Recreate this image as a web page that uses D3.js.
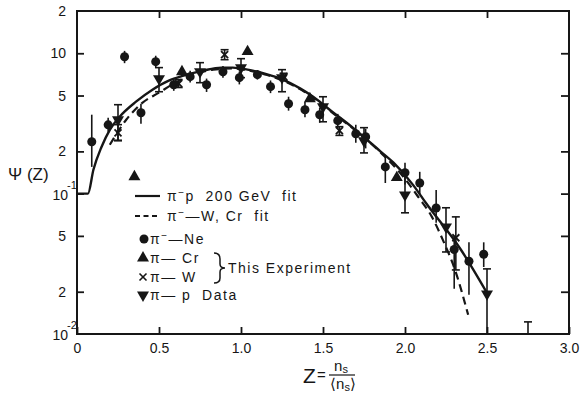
<!DOCTYPE html>
<html><head><meta charset="utf-8">
<script src="https://cdn.jsdelivr.net/npm/d3@7"></script>
<style>
html,body{margin:0;padding:0;background:#fff;}
svg{display:block;font-family:"Liberation Sans",Arial,sans-serif;}
</style></head><body>
<svg id="chart" width="581" height="396"></svg>
<script>
// ---------- data ----------
const xTicks = [0, 0.5, 1.0, 1.5, 2.0, 2.5, 3.0];
const xTickLabels = ["0", "0.5", "1.0", "1.5", "2.0", "2.5", "3.0"];
const yTicks = [2, 1, 0.5, 0.2, 0.1, 0.05, 0.02, 0.01];
const yTickBase = ["2", "10", "5", "2", "10", "5", "2", "10"];
const yTickExp  = ["", "", "", "", "-1", "", "", "-2"];

// pi- p 200 GeV fit (solid)
const fitPZ   = [0, 0.067, 0.10, 0.15, 0.20, 0.26, 0.36, 0.46, 0.56, 0.65, 0.77, 0.88, 0.95, 1.04, 1.16, 1.24, 1.36, 1.44, 1.56, 1.65, 1.85, 1.93, 2.05, 2.13, 2.34, 2.50];
const fitPPsi = [0.1, 0.1, 0.148, 0.216, 0.285, 0.353, 0.452, 0.55, 0.638, 0.692, 0.752, 0.79, 0.79, 0.764, 0.708, 0.66, 0.562, 0.49, 0.38, 0.316, 0.20, 0.166, 0.115, 0.085, 0.040, 0.0196];
// pi- W, Cr fit (dashed)
const fitWZ   = [0.20, 0.30, 0.40, 0.50, 0.60, 0.70, 0.83, 0.95, 1.04, 1.16, 1.36, 1.56, 1.85, 1.99, 2.08, 2.165, 2.23, 2.305, 2.385];
const fitWPsi = [0.223, 0.336, 0.445, 0.524, 0.617, 0.70, 0.764, 0.78, 0.755, 0.70, 0.555, 0.375, 0.197, 0.132, 0.095, 0.068, 0.047, 0.0286, 0.0137];

// pi- Ne (circles)
const neZ   = [0.09, 0.19, 0.29, 0.39, 0.48, 0.59, 0.69, 0.79, 0.89, 0.99, 1.10, 1.18, 1.29, 1.39, 1.48, 1.59, 1.70, 1.76, 1.88, 2.00, 2.09, 2.19, 2.30, 2.39, 2.48];
const nePsi = [0.234, 0.309, 0.945, 0.377, 0.871, 0.597, 0.681, 0.597, 0.739, 0.670, 0.704, 0.578, 0.437, 0.396, 0.365, 0.331, 0.267, 0.254, 0.155, 0.141, 0.119, 0.079, 0.040, 0.033, 0.037];
const neLo  = [0.155, 0.276, 0.85, 0.315, 0.79, 0.54, 0.62, 0.53, 0.67, 0.60, 0.65, 0.52, 0.39, 0.35, 0.32, 0.29, 0.23, 0.21, 0.119, 0.116, 0.098, 0.062, 0.021, 0.019, 0.030];
const neHi  = [0.365, 0.347, 1.04, 0.437, 0.96, 0.66, 0.75, 0.66, 0.81, 0.74, 0.76, 0.64, 0.49, 0.45, 0.41, 0.37, 0.31, 0.29, 0.183, 0.166, 0.143, 0.106, 0.050, 0.045, 0.045];

// pi- Cr (triangles)
const crZ   = [0.35, 0.64, 1.04, 1.42, 1.95];
const crPsi = [0.132, 0.739, 1.027, 0.474, 0.130];

// pi- W (crosses)
const wZ   = [0.25, 0.62, 0.90, 1.26, 1.60, 2.31];
const wPsi = [0.271, 0.607, 0.977, 0.681, 0.281, 0.0485];
const wLo  = [0.24, 0.57, 0.90, 0.64, 0.26, 0.0286];
const wHi  = [0.31, 0.65, 1.06, 0.72, 0.30, 0.0683];

// pi- p data (inverted triangles)
const pZ   = [0.25, 0.50, 0.75, 1.00, 1.25, 1.50, 1.75, 2.00, 2.25, 2.50];
const pPsi = [0.336, 0.659, 0.739, 0.789, 0.670, 0.416, 0.238, 0.098, 0.058, 0.0193];
const pLo  = [0.238, 0.532, 0.617, 0.670, 0.532, 0.325, 0.195, 0.073, 0.0384, 0.01];
const pHi  = [0.430, 0.790, 0.857, 0.915, 0.764, 0.490, 0.295, 0.141, 0.0793, 0.0291];

// upper limit bar
const limZ  = [2.75];
const limLo = [0.01];
const limHi = [0.0122];

// ---------- drawing ----------
const ink = "#161616";
const svg = d3.select("#chart");
const x = d3.scaleLinear().domain([0, 3]).range([77, 569]);
const y = d3.scaleLog().domain([0.01, 2]).range([334, 11]);

// frame
svg.append("rect")
  .attr("x", x(0)).attr("y", y(2))
  .attr("width", x(3) - x(0)).attr("height", y(0.01) - y(2))
  .attr("fill", "none").attr("stroke", ink).attr("stroke-width", 2);

function styleAxis(g) {
  g.select(".domain").remove();
  g.selectAll(".tick line").attr("stroke", ink).attr("stroke-width", 1.8);
  g.attr("font-family", "Liberation Sans, Arial, sans-serif").attr("font-size", 14);
  g.selectAll(".tick text").attr("fill", ink);
}
svg.append("g").attr("transform", `translate(0,${y(0.01)})`)
  .call(d3.axisBottom(x).tickValues(xTicks).tickSizeInner(-7).tickSizeOuter(0)
        .tickPadding(9).tickFormat((d, i) => xTickLabels[i]))
  .call(styleAxis);
svg.append("g").attr("transform", `translate(0,${y(2)})`)
  .call(d3.axisTop(x).tickValues(xTicks.slice(1, -1)).tickSizeInner(-7).tickSizeOuter(0).tickFormat(""))
  .call(styleAxis);
svg.append("g").attr("transform", `translate(${x(0)},0)`)
  .call(d3.axisLeft(y).tickValues(yTicks.slice(1, -1)).tickSizeInner(-7).tickSizeOuter(0).tickFormat(""))
  .call(styleAxis);
svg.append("g").attr("transform", `translate(${x(3)},0)`)
  .call(d3.axisRight(y).tickValues(yTicks.slice(1, -1)).tickSizeInner(-8).tickSizeOuter(0).tickFormat(""))
  .call(styleAxis);

// y tick labels
const yl = svg.append("g").attr("font-size", 14).attr("fill", ink);
yTicks.forEach((v, i) => {
  if (yTickExp[i]) {
    yl.append("text").attr("x", 68).attr("y", y(v) + 6).attr("text-anchor", "end").text(yTickBase[i]);
    yl.append("text").attr("x", 67).attr("y", y(v) - 5).attr("font-size", 11).text(yTickExp[i]);
  } else {
    yl.append("text").attr("x", 66).attr("y", y(v) + 5).attr("text-anchor", "end").text(yTickBase[i]);
  }
});

// axis titles
svg.append("text").attr("x", 8).attr("y", 180).attr("font-size", 17).attr("fill", ink)
  .attr("xml:space", "preserve").text("Ψ (Z)");
const xt = svg.append("g").attr("fill", ink);
xt.append("text").attr("x", 303).attr("y", 383).attr("font-size", 21).text("Z");
xt.append("text").attr("x", 317).attr("y", 380).attr("font-size", 15).text("=");
const num = xt.append("text").attr("x", 341).attr("y", 371).attr("text-anchor", "middle").attr("font-size", 15);
num.append("tspan").text("n");
num.append("tspan").attr("font-size", 11).attr("dy", 2).text("s");
xt.append("line").attr("x1", 329).attr("x2", 355).attr("y1", 375).attr("y2", 375).attr("stroke", ink).attr("stroke-width", 1.2);
const den = xt.append("text").attr("x", 343).attr("y", 389).attr("text-anchor", "middle").attr("font-size", 15);
den.append("tspan").text("⟨n");
den.append("tspan").attr("font-size", 11).attr("dy", 2).text("s");
den.append("tspan").attr("dy", -2).text("⟩");

// fit curves
const line = d3.line().x(d => x(d[0])).y(d => y(d[1])).curve(d3.curveMonotoneX);
svg.append("path").datum(fitPZ.map((z, i) => [z, fitPPsi[i]]))
  .attr("d", line).attr("fill", "none").attr("stroke", ink).attr("stroke-width", 2.4);
svg.append("path").datum(fitWZ.map((z, i) => [z, fitWPsi[i]]))
  .attr("d", line).attr("fill", "none").attr("stroke", ink).attr("stroke-width", 2.2)
  .attr("stroke-dasharray", "8,5");

// error bars
function errBars(zs, lo, hi, cap) {
  const g = svg.append("g").attr("stroke", ink).attr("stroke-width", 1.6);
  zs.forEach((z, i) => {
    g.append("line").attr("x1", x(z)).attr("x2", x(z)).attr("y1", y(lo[i])).attr("y2", y(hi[i]));
    if (cap) {
      g.append("line").attr("x1", x(z) - 4).attr("x2", x(z) + 4).attr("y1", y(hi[i])).attr("y2", y(hi[i]));
      if (lo[i] > 0.0101)
        g.append("line").attr("x1", x(z) - 4).attr("x2", x(z) + 4).attr("y1", y(lo[i])).attr("y2", y(lo[i]));
    }
  });
}
errBars(neZ, neLo, neHi, false);
errBars(wZ, wLo, wHi, true);
errBars(pZ, pLo, pHi, true);
errBars(limZ, limLo, limHi, true);

// markers
const circ = d3.symbol().type(d3.symbolCircle).size(64);
const tri = d3.symbol().type(d3.symbolTriangle).size(62);
function drawCross(g, cx, cy, r) {
  g.append("line").attr("x1", cx - r).attr("x2", cx + r).attr("y1", cy - r).attr("y2", cy + r);
  g.append("line").attr("x1", cx - r).attr("x2", cx + r).attr("y1", cy + r).attr("y2", cy - r);
}
svg.append("g").selectAll("path").data(neZ).join("path")
  .attr("d", circ).attr("fill", ink)
  .attr("transform", (z, i) => `translate(${x(z)},${y(nePsi[i])})`);
svg.append("g").selectAll("path").data(crZ).join("path")
  .attr("d", tri).attr("fill", ink)
  .attr("transform", (z, i) => `translate(${x(z)},${y(crPsi[i])})`);
svg.append("g").selectAll("path").data(pZ).join("path")
  .attr("d", tri).attr("fill", ink)
  .attr("transform", (z, i) => `translate(${x(z)},${y(pPsi[i])}) rotate(180)`);
const cg = svg.append("g").attr("stroke", ink).attr("stroke-width", 1.8);
wZ.forEach((z, i) => drawCross(cg, x(z), y(wPsi[i]), 3.5));

// legend
const lg = svg.append("g").attr("fill", ink).attr("font-size", 14).attr("letter-spacing", 1.5);
function label(xp, yp, parts) {
  const t = lg.append("text").attr("x", xp).attr("y", yp).attr("xml:space", "preserve");
  parts.forEach(p => {
    if (p[1]) t.append("tspan").attr("dy", -5).attr("font-size", 10).text(p[0]);
    else t.append("tspan").attr("dy", p[2] || 0).text(p[0]);
  });
}
const legY = [196, 216, 239, 258, 277, 295];
lg.append("line").attr("x1", 135).attr("x2", 160).attr("y1", legY[0]).attr("y2", legY[0]).attr("stroke", ink).attr("stroke-width", 2.2);
label(167, legY[0] + 5, [["π"], ["−", true], ["p  200 GeV  fit", false, 5]]);
lg.append("line").attr("x1", 135).attr("x2", 160).attr("y1", legY[1]).attr("y2", legY[1]).attr("stroke", ink).attr("stroke-width", 2).attr("stroke-dasharray", "5,3.5");
label(167, legY[1] + 5, [["π"], ["−", true], ["—W, Cr  fit", false, 5]]);
lg.append("path").attr("d", circ).attr("transform", `translate(144,${legY[2]})`);
label(150, legY[2] + 5, [["π"], ["−", true], ["—Ne", false, 5]]);
lg.append("path").attr("d", tri).attr("transform", `translate(143,${legY[3]})`);
label(150, legY[3] + 5, [["π— Cr"]]);
const lcg = lg.append("g").attr("stroke", ink).attr("stroke-width", 1.6);
drawCross(lcg, 143, legY[4], 3.5);
label(150, legY[4] + 5, [["π— W"]]);
lg.append("path").attr("d", tri).attr("transform", `translate(143,${legY[5]}) rotate(180)`);
label(150, legY[5] + 5, [["π— p  Data"]]);
// brace
lg.append("path").attr("fill", "none").attr("stroke", ink).attr("stroke-width", 1.5)
  .attr("d", "M214,253 Q220,253 220,259 L220,264 Q220,268 225,268 Q220,268 220,272 L220,278 Q220,283 214,283");
label(228, 273, [["This Experiment"]]);
</script>
</body></html>
